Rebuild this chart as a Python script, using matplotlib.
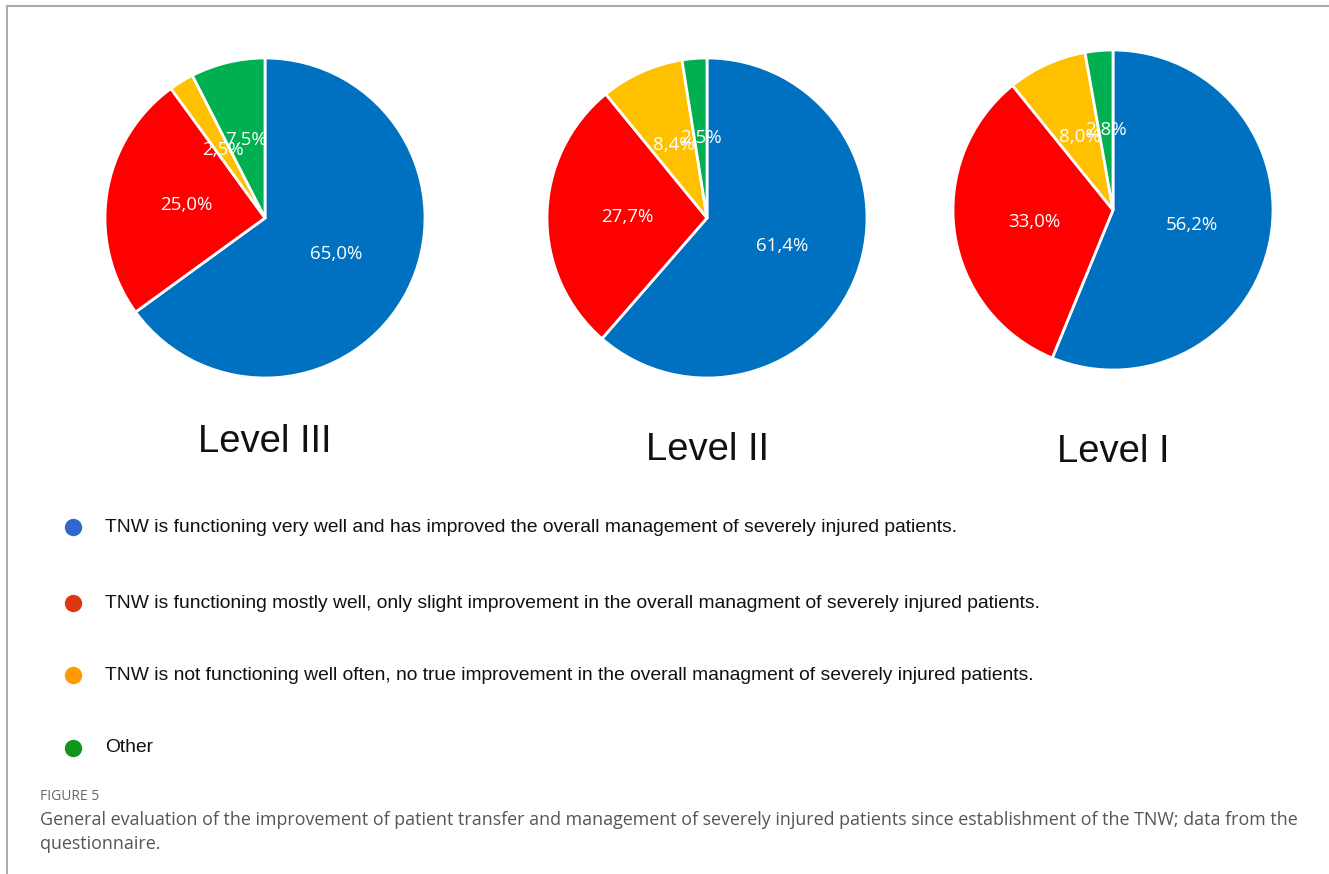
import matplotlib
matplotlib.use("Agg")
import matplotlib.pyplot as plt
from matplotlib.lines import Line2D

# survey answers per trauma centre level (percent of respondents)
levels = ["Level III", "Level II", "Level I"]
very_well = [65.0, 61.4, 56.2]
mostly_well = [25.0, 27.7, 33.0]
not_well = [2.5, 8.4, 8.0]
other = [7.5, 2.5, 2.8]

answers = [
    "TNW is functioning very well and has improved the overall management of severely injured patients.",
    "TNW is functioning mostly well, only slight improvement in the overall managment of severely injured patients.",
    "TNW is not functioning well often, no true improvement in the overall managment of severely injured patients.",
    "Other",
]

slice_colors = ["#0070C0", "#FF0000", "#FFC000", "#00B050"]
dot_colors = ["#3366CC", "#DC3912", "#FF9900", "#109618"]

W, H = 1329, 874
fig = plt.figure(figsize=(W / 100, H / 100), dpi=100)
fig.patch.set_facecolor("white")


def px_axes(cx, cy, r):
    return fig.add_axes([(cx - r) / W, (H - cy - r) / H, 2 * r / W, 2 * r / H])


# pie centres and title positions in pixels
centres = [(265, 218), (707, 218), (1113, 210)]
title_y = [442, 450, 452]
R = 160

for i, name in enumerate(levels):
    cx, cy = centres[i]
    ax = px_axes(cx, cy, R)
    vals = [very_well[i], mostly_well[i], not_well[i], other[i]]
    ax.pie(vals, colors=slice_colors, startangle=90, counterclock=False,
           radius=1, autopct=lambda p: f"{p:.1f}%".replace(".", ","),
           pctdistance=0.5,
           wedgeprops=dict(edgecolor="white", linewidth=2),
           textprops=dict(color="white", fontsize=13.5, family="Open Sans"))
    ax.set_xlim(-1, 1)
    ax.set_ylim(-1, 1)
    ax.set_aspect("equal")
    ax.axis("off")
    fig.text(cx / W, 1 - title_y[i] / H, name, ha="center", va="center",
             fontsize=27.5, family="Liberation Sans", color="#111111")

# legend rows
rows_y = [527, 603, 675, 748]
for label, col, y in zip(answers, dot_colors, rows_y):
    fig.add_artist(Line2D([73 / W], [1 - y / H], marker="o", markersize=12.5,
                          color=col, markeredgewidth=0, linestyle="none"))
    fig.text(105 / W, 1 - y / H, label, ha="left", va="center",
             fontsize=13.9, family="Liberation Sans", color="#111111")

# caption
fig.text(40 / W, 1 - 797 / H, "FIGURE 5", ha="left", va="center",
         fontsize=10, family="Open Sans", color="#666666")
fig.text(40 / W, 1 - 820 / H,
         "General evaluation of the improvement of patient transfer and management of "
         "severely injured patients since establishment of the TNW; data from the",
         ha="left", va="center", fontsize=12.9, family="Open Sans", color="#555555")
fig.text(40 / W, 1 - 844 / H, "questionnaire.", ha="left", va="center",
         fontsize=12.9, family="Open Sans", color="#555555")

# page frame
fig.add_artist(Line2D([7 / W, 1], [1 - 6 / H, 1 - 6 / H], color="#aaaaaa", linewidth=1.5))
fig.add_artist(Line2D([7 / W, 7 / W], [0, 1 - 6 / H], color="#aaaaaa", linewidth=1.5))

fig.savefig("out.png", dpi=100, facecolor="white")
